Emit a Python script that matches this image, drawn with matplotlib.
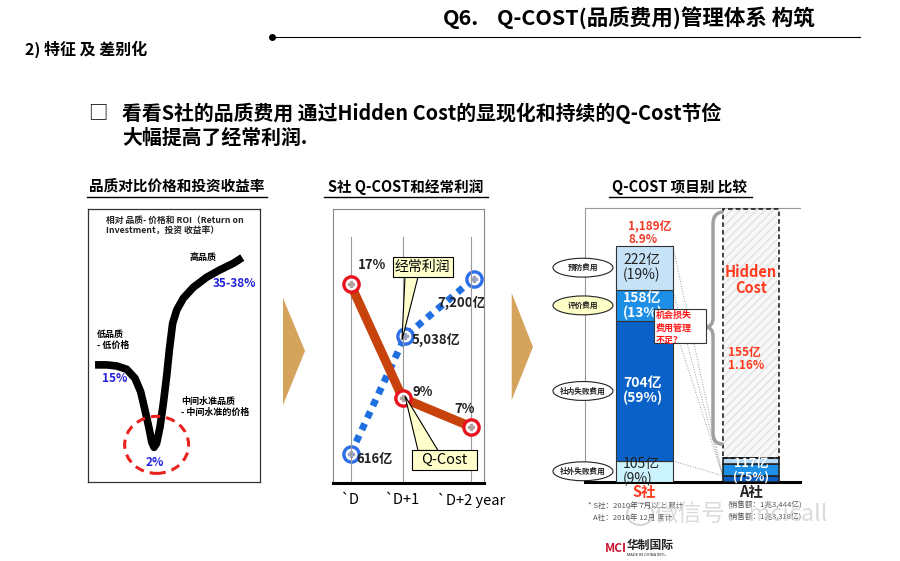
import matplotlib
matplotlib.use('Agg')
import matplotlib.pyplot as plt
from matplotlib.patches import Ellipse, Rectangle, Polygon, PathPatch
from matplotlib.path import Path
import numpy as np

plt.rcParams['font.family'] = ['Noto Sans CJK SC', 'DejaVu Sans']

# ---------------- data ----------------
# left panel: schematic curve, relative quality (x) vs ROI level (y)
roi_quality = [4.1, 10.9, 16.7, 22.5, 27.3, 30.6, 33.1, 35.5, 37.0, 38.4, 39.9, 41.9,
               43.8, 45.7, 47.3, 49.2, 51.6, 55.4, 61.2, 69.0, 76.7, 84.5, 89.7]
roi_level = [42.9, 42.9, 42.5, 41.3, 38.0, 33.1, 26.4, 19.7, 14.8, 12.7, 14.2, 20.3,
             28.8, 38.6, 48.4, 58.1, 63.0, 67.3, 71.3, 75.0, 77.7, 80.1, 82.2]
roi_labels = ['15%', '2%', '35-38%']

# middle panel
years = ['`D', '`D+1', '`D+2 year']
qcost_rate = [17, 9, 7]            # Q-Cost ratio (%)
profit = [616, 5038, 7200]         # ordinary profit (亿)
qcost_labels = ['17%', '9%', '7%']
profit_labels = ['616亿', '5,038亿', '7,200亿']

# right panel
cost_items = ['社外失败费用', '社内失败费用', '评价费用', '预防费用']
s_costs = [105, 704, 158, 222]
s_shares = ['9%', '59%', '13%', '19%']
a_costs = [30, 58, 29]
companies = ['S社', 'A社']

# ---------------- figure ----------------
fig = plt.figure(figsize=(9, 5.61), dpi=100)
fig.patch.set_facecolor('white')


def px_ax(l, t, r, b):
    return fig.add_axes([l / 900, 1 - b / 561, (r - l) / 900, (b - t) / 561])


BOLD = 'bold'

# ---------------- left panel ----------------
axL = px_ax(88, 209, 260, 482)
axL.set_xlim(0, 100)
axL.set_ylim(0, 100)
axL.set_xticks([])
axL.set_yticks([])
for s in axL.spines.values():
    s.set_color('#333333')
    s.set_linewidth(0.9)
axL.plot(roi_quality, roi_level, color='black', lw=5.5,
         solid_capstyle='butt', solid_joinstyle='round', zorder=3)
axL.add_patch(Ellipse((39.9, 13.6), 37.2, 20.9, fill=False, ec='#E8231E',
                      lw=2.2, ls=(0, (3, 2)), zorder=4))

# ---------------- middle panel ----------------
axM = px_ax(333, 209, 484, 483)
axB = axM.twinx()
axM.set_zorder(axB.get_zorder() + 1)
axM.patch.set_visible(False)
xpos = [0, 1, 2.31]
xpos_b = [0, 1.05, 2.37]
axM.set_xlim(-0.34, 2.566)
axM.set_ylim(3.03, 22.31)
axB.set_ylim(-481, 9817)
for x in xpos:
    axM.axvline(x, ymin=0, ymax=0.898, color='#999999', lw=0.8, zorder=1)
for a in (axM, axB):
    a.set_yticks([])
for name, s in axM.spines.items():
    if name == 'bottom':
        s.set_color('black')
        s.set_linewidth(2.2)
    else:
        s.set_color('#888888')
        s.set_linewidth(0.8)
for s in axB.spines.values():
    s.set_visible(False)
axM.set_xticks(xpos, years, fontsize=10.5)
axM.tick_params(axis='x', length=0, pad=7)

axB.plot(xpos_b, profit, color='#1F6FE0', lw=5, ls=(0, (1.0, 0.9)),
         dash_capstyle='butt', zorder=2)
axB.plot(xpos_b, profit, ls='none', marker='o', ms=11, mfc='white',
         mec='#2E6FE8', mew=2.4, zorder=3)
axB.plot(xpos_b, profit, ls='none', marker='P', ms=4, color='#9aa3c0', zorder=4)

axM.plot(xpos, qcost_rate, color='#C8420C', lw=6.5, solid_capstyle='round', zorder=3)
axM.plot(xpos, qcost_rate, ls='none', marker='o', ms=11, mfc='white',
         mec='#E8141E', mew=2.4, zorder=5)
axM.plot(xpos, qcost_rate, ls='none', marker='P', ms=4, color='#b0a0a0', zorder=6)

q_off = [((21, 19), 'center'), ((10, 6), 'left'), ((-6, 18), 'center')]
for x, v, lab, (off, ha) in zip(xpos, qcost_rate, qcost_labels, q_off):
    axM.annotate(lab, (x, v), xytext=off, textcoords='offset pixels', ha=ha,
                 va='center', fontsize=9.5, fontweight=BOLD, color='#222222', zorder=7)
p_off = [((6, -5), 'left'), ((6, -4), 'left'), ((-36, -24), 'left')]
for x, v, lab, (off, ha) in zip(xpos_b, profit, profit_labels, p_off):
    axB.annotate(lab, (x, v), xytext=off, textcoords='offset pixels', ha=ha,
                 va='center', fontsize=9.5, fontweight=BOLD, color='#222222', zorder=7)

# ---------------- right panel ----------------
axR = px_ax(585, 208.3, 800, 481.7)
axR.set_xlim(-0.557, 1.46)
axR.set_ylim(0, 1377)
axR.set_yticks([])
axR.spines['right'].set_visible(False)
axR.spines['left'].set_color('#999999')
axR.spines['top'].set_color('#999999')
axR.spines['left'].set_linewidth(0.8)
axR.spines['top'].set_linewidth(0.8)
axR.spines['bottom'].set_color('black')
axR.spines['bottom'].set_linewidth(2.2)
axR.set_xticks([0, 1], companies, fontsize=10.5, fontweight=BOLD)
axR.tick_params(axis='x', length=0, pad=2)
tl = axR.get_xticklabels()
tl[0].set_color('#FF3B1F')
tl[1].set_color('#222222')

bw = 0.532
s_colors = ['#CCF4FF', '#0A62C9', '#1E8FE6', '#C5E2F7']
bottom = 0
s_bounds = []
for v, c, item, share in zip(s_costs, s_colors, cost_items, s_shares):
    axR.bar(0, v, bw, bottom=bottom, color=c, edgecolor='#333333', lw=0.8, zorder=3)
    mid = bottom + v / 2
    white = c in ('#0A62C9', '#1E8FE6')
    axR.text(-0.2, mid, f'{v}亿\n({share})', ha='left', va='center', fontsize=10,
             fontweight=BOLD if white else 'normal',
             color='white' if white else '#222222', linespacing=1.05, zorder=4)
    fc = '#FFFFC8' if item == '评价费用' else 'white'
    axR.add_patch(Ellipse((-0.576, mid), 0.563, 95, fc=fc, ec='#222222', lw=0.8,
                          clip_on=False, zorder=5))
    axR.text(-0.576, mid, item, ha='center', va='center', fontsize=5.5,
             fontweight=BOLD, color='#222222', clip_on=False, zorder=6)
    bottom += v
    s_bounds.append(bottom)
s_total = bottom
axR.annotate(f'{s_total:,}亿\n8.9%', (0, s_total), xytext=(-16, 0),
             textcoords='offset pixels', ha='left', va='bottom', fontsize=8.5,
             fontweight=BOLD, color='#F03C28', linespacing=1.0, zorder=6)

a_colors = ['#0A5EC4', '#1E8FE6', '#B9DAF4']
bottom = 0
for v, c in zip(a_costs, a_colors):
    axR.bar(1, v, bw, bottom=bottom, color=c, edgecolor='#222222', lw=1.2, zorder=3)
    bottom += v
a_total = bottom
axR.text(1, a_total / 2, f'{a_total}亿\n(75%)', ha='center', va='center', fontsize=9,
         fontweight=BOLD, color='white', linespacing=1.0, zorder=6)

# hidden cost box
top_h = 1377 - 4
axR.add_patch(Rectangle((1 - bw / 2, a_total), bw, top_h - a_total, fc='#F8F8F8',
                        ec='#E2E2E2', hatch='////', lw=0, zorder=2))
axR.add_patch(Rectangle((1 - bw / 2, a_total), bw, top_h - a_total, fill=False,
                        ec='#111111', lw=1.1, ls=(0, (3, 2)), zorder=4))

# dotted connector lines
for yb in s_bounds:
    axR.plot([bw / 2, 1 - bw / 2], [yb, a_costs[0]], color='#999999', lw=0.7,
             ls=':', zorder=2)

# ---------------- overlay (pixel coords) ----------------
ov = fig.add_axes([0, 0, 1, 1])
ov.set_xlim(0, 900)
ov.set_ylim(561, 0)
ov.axis('off')
ov.set_zorder(20)
ov.patch.set_alpha(0)

# header
ov.text(443, 18, 'Q6.', ha='left', va='center', fontsize=15.5, fontweight=BOLD)
ov.text(497, 18, 'Q-COST(品质费用)管理体系 构筑', ha='left', va='center',
        fontsize=15.5, fontweight=BOLD)
ov.plot([272, 860], [37, 37], color='black', lw=0.8)
ov.plot([272], [37], marker='o', ms=4, color='black')
ov.text(25, 49, '2) 特征 及 差别化', ha='left', va='center', fontsize=11.5, fontweight=BOLD)
ov.text(88, 113, '□', ha='left', va='center', fontsize=14)
ov.text(122, 113, '看看S社的品质费用 通过Hidden Cost的显现化和持续的Q-Cost节俭',
        ha='left', va='center', fontsize=14.3, fontweight=BOLD)
ov.text(122, 137, '大幅提高了经常利润.', ha='left', va='center', fontsize=14.3,
        fontweight=BOLD)

# panel titles
for txt, cx, x0, x1 in [('品质对比价格和投资收益率', 177, 87, 267),
                        ('S社 Q-COST和经常利润', 406, 324, 488),
                        ('Q-COST 项目别 比较', 680, 609, 752)]:
    ov.text(cx, 187, txt, ha='center', va='center', fontsize=10.5, fontweight=BOLD)
    ov.plot([x0, x1], [197, 197], color='black', lw=1.0)

# chevrons
for pts in ([(283, 298), (305, 351), (283, 405)],
            [(511.7, 293), (533, 347), (511.7, 400)]):
    ov.add_patch(Polygon(pts, closed=True, fc='#D4A45C', ec='none'))

# left panel texts
ov.text(106, 216, '相对 品质- 价格和 ROI（Return on\nInvestment，投资 收益率）',
        ha='left', va='top', fontsize=6.3, fontweight=BOLD, color='#222222',
        linespacing=1.2)
ov.text(190, 258, '高品质', ha='left', va='center', fontsize=6.5, fontweight=BOLD)
ov.text(213, 283, roi_labels[2], ha='left', va='center', fontsize=8.5,
        fontweight=BOLD, color='#2222DD')
ov.text(97, 330, '低品质\n- 低价格', ha='left', va='top', fontsize=6.5, fontweight=BOLD,
        linespacing=1.3)
ov.text(102, 378, roi_labels[0], ha='left', va='center', fontsize=8.5,
        fontweight=BOLD, color='#2222DD')
ov.text(181, 397, '中间水准品质\n- 中间水准的价格', ha='left', va='top', fontsize=6.5,
        fontweight=BOLD, linespacing=1.3)
ov.text(155, 462, roi_labels[1], ha='center', va='center', fontsize=8.5,
        fontweight=BOLD, color='#2222DD')

# middle callouts
ov.add_patch(Polygon([(405, 277), (418, 277), (402, 340)], closed=True,
                     fc='#FFFFCC', ec='black', lw=0.8, zorder=2))
ov.add_patch(Rectangle((392.7, 257.3), 60, 20, fc='#FFFFCC', ec='black', lw=0.8, zorder=3))
ov.text(422.7, 267.3, '经常利润', ha='center', va='center', fontsize=10, zorder=4)
ov.add_patch(Polygon([(405, 396), (418, 450.5), (438, 450.5)], closed=True,
                     fc='#FFFFCC', ec='black', lw=0.8, zorder=2))
ov.add_patch(Rectangle((411.7, 450), 65, 20, fc='#FFFFCC', ec='black', lw=0.8, zorder=3))
ov.text(444.2, 460, 'Q-Cost', ha='center', va='center', fontsize=10.5, zorder=4)

# right panel overlay items
verts = [(722, 212), (713, 213), (713, 224),
         (713, 318), (713, 327), (705, 327),
         (713, 327), (713, 336),
         (713, 433), (713, 444), (722, 444)]
codes = [Path.MOVETO, Path.CURVE3, Path.CURVE3,
         Path.LINETO, Path.CURVE3, Path.CURVE3,
         Path.CURVE3, Path.CURVE3,
         Path.LINETO, Path.CURVE3, Path.CURVE3]
ov.add_patch(PathPatch(Path(verts, codes), fill=False, ec='#A0A0A0', lw=2.5,
                       capstyle='round', joinstyle='round'))
ov.add_patch(Rectangle((654, 309), 52, 34, fc='white', ec='#333333', lw=0.8))
ov.text(656, 311, '机会损失\n费用管理\n不足？', ha='left', va='top', fontsize=6.5,
        fontweight=BOLD, color='#FF1A1A', linespacing=1.45)
ov.text(751, 280, 'Hidden\nCost', ha='center', va='center', fontsize=10.5,
        fontweight=BOLD, color='#FF3B1F', linespacing=1.0)
ov.text(728, 359, '155亿\n1.16%', ha='left', va='center', fontsize=8.5,
        fontweight=BOLD, color='#FF3B1F', linespacing=1.05)

# footnotes
ov.text(588, 506, '* S社：2010年 7月以上 累计', ha='left', va='center', fontsize=5.5,
        color='#555555')
ov.text(593, 518, 'A社：2010年 12月 累计', ha='left', va='center', fontsize=5.5,
        color='#555555')
ov.text(727, 506, '(销售额：1兆3,444亿)', ha='left', va='center', fontsize=5.5,
        color='#555555')
ov.text(727, 518, '(销售额：1兆3,318亿)', ha='left', va='center', fontsize=5.5,
        color='#555555')

# watermark
ov.add_patch(Ellipse((640, 514), 26, 22, fill=False, ec='#CFCFCF', lw=1.2))
ov.text(655, 514, '微信号：mcicall', ha='left', va='center', fontsize=17,
        color='#D2D2D2', fontweight='light', alpha=0.8)

# logo
ov.text(605, 548, 'MCI', ha='left', va='center', fontsize=8.5, fontweight=BOLD,
        color='#C8102E')
ov.text(627, 545, '华制国际', ha='left', va='center', fontsize=8.5, fontweight=BOLD,
        color='#222222')
ov.text(627, 555, 'MADE IN CHINA INTL.', ha='left', va='center', fontsize=3,
        color='#222222')

fig.savefig('out.png', dpi=100, facecolor='white')
